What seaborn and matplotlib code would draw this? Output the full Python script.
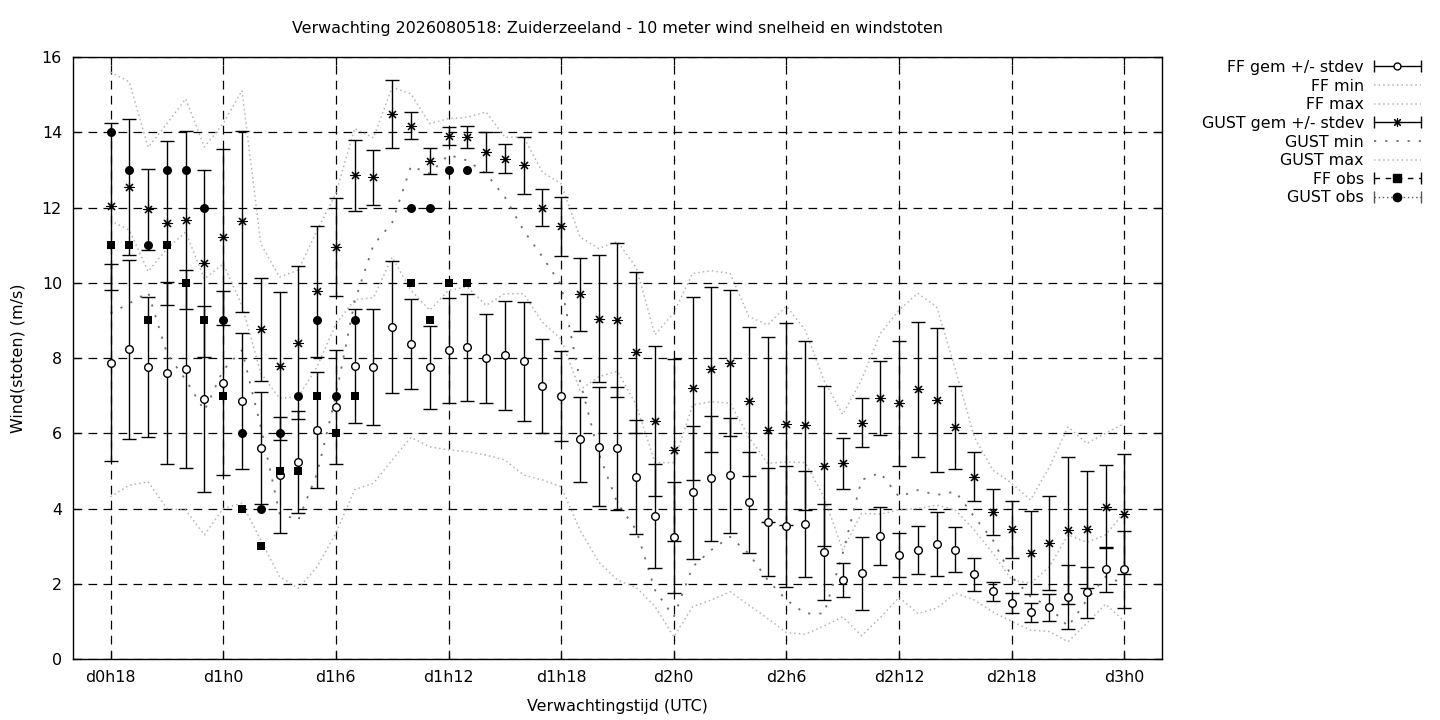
import numpy as np
import pandas as pd
import matplotlib.pyplot as plt
import seaborn as sns
from matplotlib.lines import Line2D
from matplotlib.legend_handler import HandlerLine2D

sns.set_style("ticks")
plt.rcParams['font.family'] = ['DejaVu Sans']
plt.rcParams['text.color'] = 'k'
plt.rcParams['axes.labelcolor'] = 'k'

# forecast hours, d0h18 .. d3h0
hours = list(range(18, 73))

ff_mean = [7.87, 8.23, 7.75, 7.59, 7.71, 6.90, 7.33, 6.86, 5.60, 4.89,
           5.23, 6.09, 6.69, 7.78, 7.75, 8.83, 8.37, 7.75, 8.20, 8.28,
           7.99, 8.07, 7.91, 7.26, 6.99, 5.84, 5.64, 5.60, 4.83, 3.80,
           3.23, 4.43, 4.80, 4.88, 4.16, 3.65, 3.53, 3.59, 2.84, 2.10,
           2.28, 3.27, 2.76, 2.90, 3.05, 2.90, 2.25, 1.80, 1.48, 1.24,
           1.37, 1.64, 1.77, 2.38, 2.38]
ff_std = [2.62, 2.37, 1.86, 2.42, 2.64, 2.47, 2.44, 1.81, 1.49, 1.55,
          1.36, 1.55, 1.51, 1.52, 1.54, 1.75, 1.20, 1.10, 1.39, 1.42,
          1.18, 1.44, 1.58, 1.25, 1.20, 1.13, 1.58, 1.64, 1.51, 1.37,
          1.47, 1.77, 1.67, 1.52, 1.33, 1.44, 1.61, 1.42, 1.27, 0.46,
          0.97, 0.76, 0.58, 0.64, 0.85, 0.60, 0.43, 0.26, 0.27, 0.26,
          0.35, 0.85, 0.67, 0.59, 1.02]
ff_min = [4.31, 4.62, 4.71, 4.00, 3.96, 3.30, 4.00, 4.14, 3.16, 2.19,
          1.88, 2.45, 3.34, 4.50, 4.67, 5.29, 5.89, 5.64, 5.56, 5.51,
          5.42, 5.29, 4.89, 4.76, 4.58, 3.43, 2.58, 2.10, 1.90, 1.40,
          0.59, 1.39, 1.57, 1.79, 1.43, 1.08, 0.70, 0.66, 0.88, 1.12,
          0.62, 1.10, 1.64, 1.21, 1.35, 1.75, 1.57, 1.25, 1.00, 0.77,
          0.73, 0.46, 0.95, 1.46, 1.00]
ff_max = [11.65, 11.40, 10.30, 10.90, 11.35, 10.10, 10.50, 9.40, 7.60, 6.93,
          6.97, 7.77, 8.90, 9.55, 9.60, 10.68, 9.80, 9.27, 9.80, 9.89,
          9.40, 9.71, 9.71, 8.95, 8.50, 7.15, 7.50, 7.65, 6.75, 5.22,
          5.22, 6.75, 6.84, 6.80, 5.90, 5.20, 5.24, 5.22, 4.30, 2.90,
          3.87, 3.85, 3.96, 4.00, 4.09, 3.96, 3.43, 2.81, 2.10, 2.01,
          2.45, 3.30, 3.10, 3.30, 3.90]

gust_mean = [12.03, 12.54, 11.95, 11.59, 11.66, 10.52, 11.22, 11.63, 8.76, 7.78,
             8.41, 9.77, 10.95, 12.86, 12.81, 14.48, 14.18, 13.23, 13.90, 13.87,
             13.47, 13.30, 13.12, 11.99, 11.50, 9.69, 9.05, 9.01, 8.15, 6.33,
             5.55, 7.19, 7.70, 7.86, 6.85, 6.10, 6.24, 6.21, 5.13, 5.20,
             6.28, 6.93, 6.80, 7.17, 6.88, 6.16, 4.85, 3.90, 3.45, 2.83,
             3.09, 3.42, 3.45, 4.05, 3.85]
gust_std = [2.22, 1.80, 1.08, 2.17, 2.37, 2.49, 2.34, 2.40, 1.38, 1.97,
            2.03, 1.73, 1.29, 0.94, 0.73, 0.91, 0.36, 0.35, 0.24, 0.29,
            0.53, 0.39, 0.76, 0.49, 0.78, 0.97, 1.70, 2.04, 2.13, 2.00,
            2.42, 2.44, 2.20, 1.94, 1.98, 2.45, 2.68, 2.25, 2.13, 0.67,
            0.65, 0.98, 1.66, 1.80, 1.91, 1.10, 0.66, 0.61, 0.76, 1.10,
            1.25, 1.96, 1.56, 1.10, 1.59]
gust_min = [9.19, 9.45, 9.75, 8.12, 7.42, 6.60, 7.68, 8.21, 6.17, 3.87,
            3.69, 4.93, 7.00, 9.50, 11.00, 11.60, 13.10, 12.90, 13.40, 13.25,
            12.90, 12.28, 11.39, 10.69, 9.94, 7.40, 5.47, 4.14, 3.43, 1.83,
            1.12, 2.45, 2.90, 3.25, 2.80, 2.10, 1.57, 1.21, 1.21, 2.81,
            4.76, 4.95, 4.31, 4.49, 4.36, 4.45, 3.78, 3.16, 2.19, 1.66,
            1.39, 0.86, 1.57, 2.19, 2.00]
gust_max = [15.60, 15.34, 13.60, 14.23, 14.89, 13.61, 14.23, 15.11, 11.04, 10.15,
            10.34, 11.39, 12.37, 14.10, 13.85, 15.20, 15.02, 14.23, 14.36, 14.40,
            14.54, 13.87, 13.87, 12.94, 12.63, 11.22, 10.91, 11.10, 10.40, 8.62,
            9.20, 10.25, 10.32, 10.25, 9.10, 8.88, 9.38, 8.74, 7.40, 6.50,
            7.42, 8.65, 9.28, 9.72, 9.36, 7.70, 5.90, 5.02, 4.67, 4.23,
            5.10, 6.17, 5.73, 6.00, 6.26]

# observations (missing at d1h8 and d1h9)
obs_hours = list(range(18, 38))
ff_obs = [11, 11, 9, 11, 10, 9, 7, 4, 3, 5, 5, 7, 6, 7, np.nan, np.nan, 10, 9, 10, 10]
gust_obs = [14, 13, 11, 13, 13, 12, 9, 6, 4, 6, 7, 9, 7, 9, np.nan, np.nan, 12, 12, 13, 13]

tick_hours = [18, 24, 30, 36, 42, 48, 54, 60, 66, 72]
tick_labels = ['d0h18', 'd1h0', 'd1h6', 'd1h12', 'd1h18',
               'd2h0', 'd2h6', 'd2h12', 'd2h18', 'd3h0']

title = 'Verwachting 2026080518: Zuiderzeeland - 10 meter wind snelheid en windstoten'

fs = 11.4
light = '#b4b4b4'
dark = '#6e6e6e'
dotted = (0, (1, 2))
sparse = (0, (1.2, 5))

lines = pd.DataFrame({'uur': hours, 'ff_min': ff_min, 'ff_max': ff_max,
                      'gust_min': gust_min, 'gust_max': gust_max})
obs = pd.DataFrame({'uur': obs_hours, 'ff': ff_obs, 'gust': gust_obs})

fig = plt.figure(figsize=(14.4, 7.2), dpi=100)
ax = fig.add_axes([0.0507, 0.0847, 0.7562, 0.8361])

# FF mean +/- stdev
ax.errorbar(hours, ff_mean, yerr=ff_std, fmt='o', color='k', mfc='white', mec='k',
            ms=5.5, mew=1, elinewidth=1, capsize=5, capthick=1, zorder=3)
sns.lineplot(data=lines, x='uur', y='ff_min', color=light, linestyle=dotted, lw=1.1, ax=ax, zorder=2)
sns.lineplot(data=lines, x='uur', y='ff_max', color=light, linestyle=dotted, lw=1.1, ax=ax, zorder=2)

# GUST mean +/- stdev
ax.errorbar(hours, gust_mean, yerr=gust_std, fmt='none', ecolor='k',
            elinewidth=1, capsize=5, capthick=1, zorder=3)
sns.scatterplot(x=hours, y=gust_mean, marker=(8, 2, 0), color='k', s=44, linewidth=0.8,
                ax=ax, zorder=4)
sns.lineplot(data=lines, x='uur', y='gust_min', color=dark, linestyle=sparse, lw=1.3, ax=ax, zorder=2)
sns.lineplot(data=lines, x='uur', y='gust_max', color=light, linestyle=dotted, lw=1.1, ax=ax, zorder=2)

# observations
sns.scatterplot(data=obs, x='uur', y='ff', marker='s', color='k', s=36, linewidth=0, ax=ax, zorder=5)
sns.scatterplot(data=obs, x='uur', y='gust', marker='o', color='k', s=42, linewidth=0, ax=ax, zorder=5)

ax.set_xlim(16, 74)
ax.set_ylim(0, 16)
ax.set_xticks(tick_hours)
ax.set_xticklabels(tick_labels)
ax.set_yticks(range(0, 17, 2))
ax.set_xlabel('')
ax.set_ylabel('')
ax.set_axisbelow(True)
ax.grid(True, color='k', linestyle=(0, (7, 5)), linewidth=0.9)
ax.tick_params(direction='in', length=6, width=0.9, top=True, right=True,
               labelsize=fs, colors='k', pad=8)
for s in ax.spines.values():
    s.set_color('k')
    s.set_linewidth(1)

fig.text(617.5 / 1440, 1 - 29 / 720, title, ha='center', va='center', fontsize=fs)
fig.text(18 / 1440, 1 - 358 / 720, 'Wind(stoten) (m/s)', rotation=90,
         ha='center', va='center', fontsize=fs)
fig.text(617.5 / 1440, 1 - 706 / 720, 'Verwachtingstijd (UTC)', ha='center', va='center', fontsize=fs)

# legend in gnuplot style: label right, sample with caps
caps = Line2D([], [], color='k', lw=0, marker='|', ms=8, mew=1)
caps2 = Line2D([], [], color='k', lw=0, marker='|', ms=8, mew=1)
caps3 = Line2D([], [], color='#555555', lw=0, marker='|', ms=8, mew=1)
caps4 = Line2D([], [], color='k', lw=0, marker='|', ms=8, mew=1)
handles = [
    (Line2D([], [], color='k', lw=1, marker='o', mfc='white', mec='k', ms=5), caps),
    Line2D([], [], color=light, lw=1.1, linestyle=dotted),
    Line2D([], [], color=light, lw=1.1, linestyle=dotted),
    (Line2D([], [], color='k', lw=1, marker=(8, 2, 0), ms=6.5, mew=0.8), caps2),
    Line2D([], [], color=dark, lw=1.3, linestyle=sparse),
    Line2D([], [], color=light, lw=1.1, linestyle=dotted),
    (Line2D([], [], color='k', lw=1, linestyle=(0, (4, 4)), marker='s', ms=6), caps4),
    (Line2D([], [], color='#555555', lw=1, linestyle=(0, (1, 2)), marker='o', mfc='k', mec='k', ms=6), caps3),
]
labels = ['FF gem +/- stdev', 'FF min', 'FF max', 'GUST gem +/- stdev',
          'GUST min', 'GUST max', 'FF obs', 'GUST obs']
cap_handler = HandlerLine2D(numpoints=2, marker_pad=0)
fig.legend(handles, labels, loc='upper right', bbox_to_anchor=(1421 / 1440, 1 - 60 / 720),
           markerfirst=False, frameon=False, fontsize=fs, handlelength=3.0,
           handletextpad=0.6, labelspacing=0.23, borderpad=0, borderaxespad=0,
           handler_map={caps: cap_handler, caps2: cap_handler, caps3: cap_handler, caps4: cap_handler})

fig.savefig('out.png', dpi=100)
